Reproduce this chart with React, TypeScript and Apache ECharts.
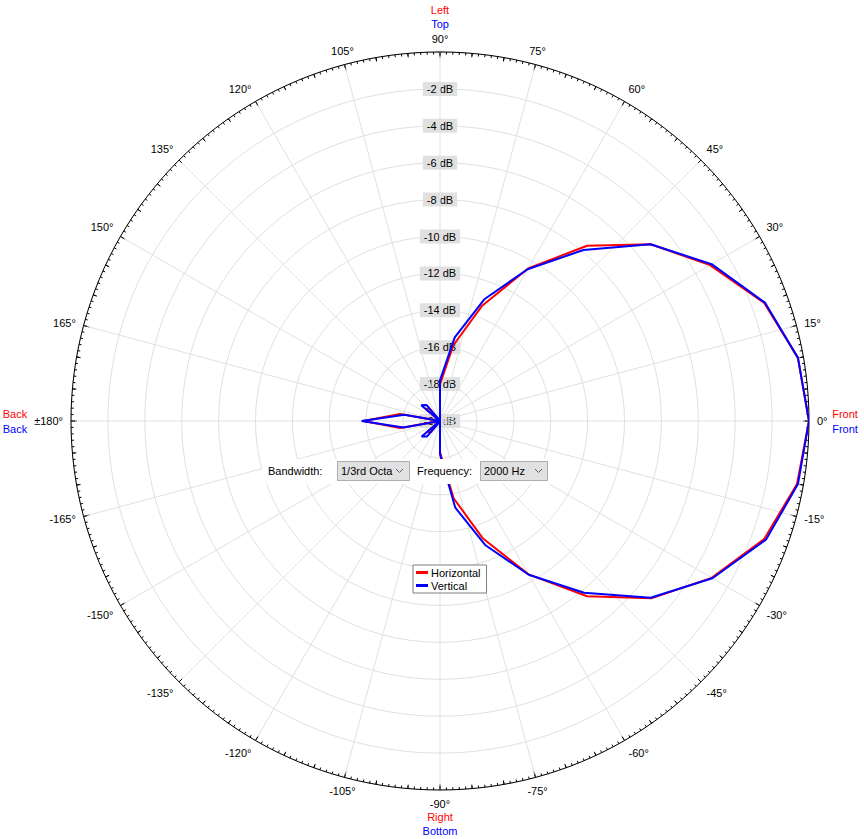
import React, { useEffect, useRef } from 'react';
import * as echarts from 'echarts';

const angles = [-180, -170, -160, -150, -140, -130, -120, -110, -100, -90, -80, -70, -60, -50, -40, -30, -20, -10, 0, 10, 20, 30, 40, 50, 60, 70, 80, 90, 100, 110, 120, 130, 140, 150, 160, 170, 180];

const horizontal = [-15.85, -17.8, -20, -20, -19.1, -19.2, -20, -20, -20, -18.3, -15.75, -13.24, -10.4, -7.6, -5.05, -3.0, -1.3, -0.35, 0, -0.3, -1.3, -3.1, -5.1, -7.6, -10.45, -13.37, -15.83, -18.0, -20, -20, -20, -19.1, -19.0, -20, -20, -17.8, -15.85];

const vertical = [-15.75, -18.0, -20, -20, -18.7, -18.9, -20, -20, -20, -18.2, -15.23, -12.85, -10.38, -7.85, -5.1, -2.95, -1.2, -0.3, 0, -0.3, -1.25, -3.0, -5.1, -7.9, -10.5, -12.98, -15.4, -17.8, -20, -20, -20, -18.86, -18.67, -20, -20, -18.05, -15.75];

const seriesNames = ['Horizontal', 'Vertical'];
const seriesColors = ['#ff0000', '#0000ff'];

const FONT = '"Liberation Sans", Arial, sans-serif';

export default function App() {
  const ref = useRef<HTMLDivElement>(null);

  useEffect(() => {
    if (!ref.current) return;
    const chart = echarts.init(ref.current, undefined, { renderer: 'svg' });
    const cx = 440;
    const cy = 421;
    const R = 369;

    const txt = (text: string, x: number, y: number, fill: string, align = 'center') => ({
      type: 'text',
      z: 20,
      style: { text, x, y, fill, font: `11px ${FONT}`, align, verticalAlign: 'middle' },
    });

    const option: any = {
      animation: false,
      backgroundColor: '#ffffff',
      textStyle: { fontFamily: FONT },
      polar: [
        { center: [cx, cy], radius: R },
        { center: [cx, cy], radius: R },
      ],
      angleAxis: [
        {
          polarIndex: 0,
          type: 'value',
          min: -180,
          max: 180,
          interval: 15,
          startAngle: 180,
          clockwise: false,
          z: 3,
          axisLine: { show: true, lineStyle: { color: '#000', width: 1 } },
          axisTick: { show: true, inside: true, length: 6, lineStyle: { color: '#000', width: 1 } },
          minorTick: { show: true, splitNumber: 15, length: 2.5, lineStyle: { color: '#000', width: 1 } },
          splitLine: { show: true, lineStyle: { color: '#e0e0e0', width: 1 } },
          axisLabel: {
            show: true,
            margin: 8,
            color: '#000',
            fontSize: 11,
            fontFamily: FONT,
            formatter: (v: number) => (v === -180 ? '±180°' : v === 180 ? '' : v + '°'),
          },
        },
        {
          polarIndex: 1,
          type: 'value',
          min: 0,
          max: 360,
          interval: 5,
          startAngle: 90,
          clockwise: false,
          z: 3,
          axisLine: { show: false },
          axisTick: { show: true, inside: true, length: 4, lineStyle: { color: '#000', width: 1 } },
          axisLabel: { show: false },
          splitLine: { show: false },
        },
      ],
      radiusAxis: [
        {
          polarIndex: 0,
          type: 'value',
          min: -20,
          max: 0,
          interval: 2,
          axisLine: { show: false },
          axisTick: { show: false },
          axisLabel: { show: false },
          splitLine: { show: true, lineStyle: { color: '#e0e0e0', width: 1 } },
        },
        {
          polarIndex: 1,
          type: 'value',
          min: -20,
          max: 0,
          interval: 2,
          axisLine: { show: false },
          axisTick: { show: false },
          splitLine: { show: false },
          axisLabel: {
            show: true,
            margin: 0,
            align: 'center',
            verticalAlign: 'middle',
            rotate: 0,
            color: '#000',
            fontSize: 11,
            fontFamily: FONT,
            backgroundColor: '#e0e0e0',
            padding: [2, 4, 1, 4],
            formatter: (v: number) => (v === 0 ? '' : v + ' dB'),
          },
        },
      ],
      legend: {
        orient: 'vertical',
        left: 413,
        top: 565,
        padding: [2, 6, 2, 3],
        itemGap: 2,
        itemWidth: 12,
        itemHeight: 3,
        icon: 'rect',
        backgroundColor: '#ffffff',
        borderColor: '#808080',
        borderWidth: 1,
        borderRadius: 0,
        z: 10,
        textStyle: { color: '#000', fontSize: 11, fontFamily: FONT, padding: [0, 0, 0, -2] },
        data: seriesNames,
      },
      series: [
        {
          name: seriesNames[0],
          type: 'line',
          coordinateSystem: 'polar',
          polarIndex: 0,
          symbol: 'none',
          z: 4,
          lineStyle: { color: seriesColors[0], width: 2 },
          itemStyle: { color: seriesColors[0] },
          data: angles.map((a, i) => [horizontal[i], a]),
        },
        {
          name: seriesNames[1],
          type: 'line',
          coordinateSystem: 'polar',
          polarIndex: 0,
          symbol: 'none',
          z: 5,
          lineStyle: { color: seriesColors[1], width: 2 },
          itemStyle: { color: seriesColors[1] },
          data: angles.map((a, i) => [vertical[i], a]),
        },
      ],
      graphic: [
        { type: 'rect', z: 15, shape: { x: 262, y: 459, width: 291, height: 25 }, style: { fill: '#ffffff' } },
        txt('Bandwidth:', 268, 471, '#000', 'left'),
        { type: 'rect', z: 16, shape: { x: 337.5, y: 461.5, width: 72, height: 19 }, style: { fill: '#e1e1e1', stroke: '#adadad', lineWidth: 1 } },
        txt('1/3rd Octa', 341, 471, '#000', 'left'),
        { type: 'polyline', z: 20, shape: { points: [[396, 469], [399.5, 472.5], [403, 469]] }, style: { stroke: '#606060', lineWidth: 1, fill: 'none' } },
        txt('Frequency:', 417, 471, '#000', 'left'),
        { type: 'rect', z: 16, shape: { x: 480.5, y: 461.5, width: 67, height: 19 }, style: { fill: '#e1e1e1', stroke: '#adadad', lineWidth: 1 } },
        txt('2000 Hz', 484, 471, '#000', 'left'),
        { type: 'polyline', z: 20, shape: { points: [[535, 469], [538.5, 472.5], [542, 469]] }, style: { stroke: '#606060', lineWidth: 1, fill: 'none' } },
        txt('Left', 440, 10, '#ff0000'),
        txt('Top', 440, 24, '#0000ff'),
        txt('Right', 440, 817, '#ff0000'),
        txt('Bottom', 440, 831, '#0000ff'),
        txt('Back', 15, 414, '#ff0000'),
        txt('Back', 15, 429, '#0000ff'),
        txt('Front', 845, 414, '#ff0000'),
        txt('Front', 845, 429, '#0000ff'),
      ],
    };

    chart.setOption(option);
    return () => chart.dispose();
  }, []);

  return (
    <div
      ref={ref}
      style={{ position: 'fixed', left: 0, top: 0, width: 864, height: 839, background: '#fff' }}
    />
  );
}
